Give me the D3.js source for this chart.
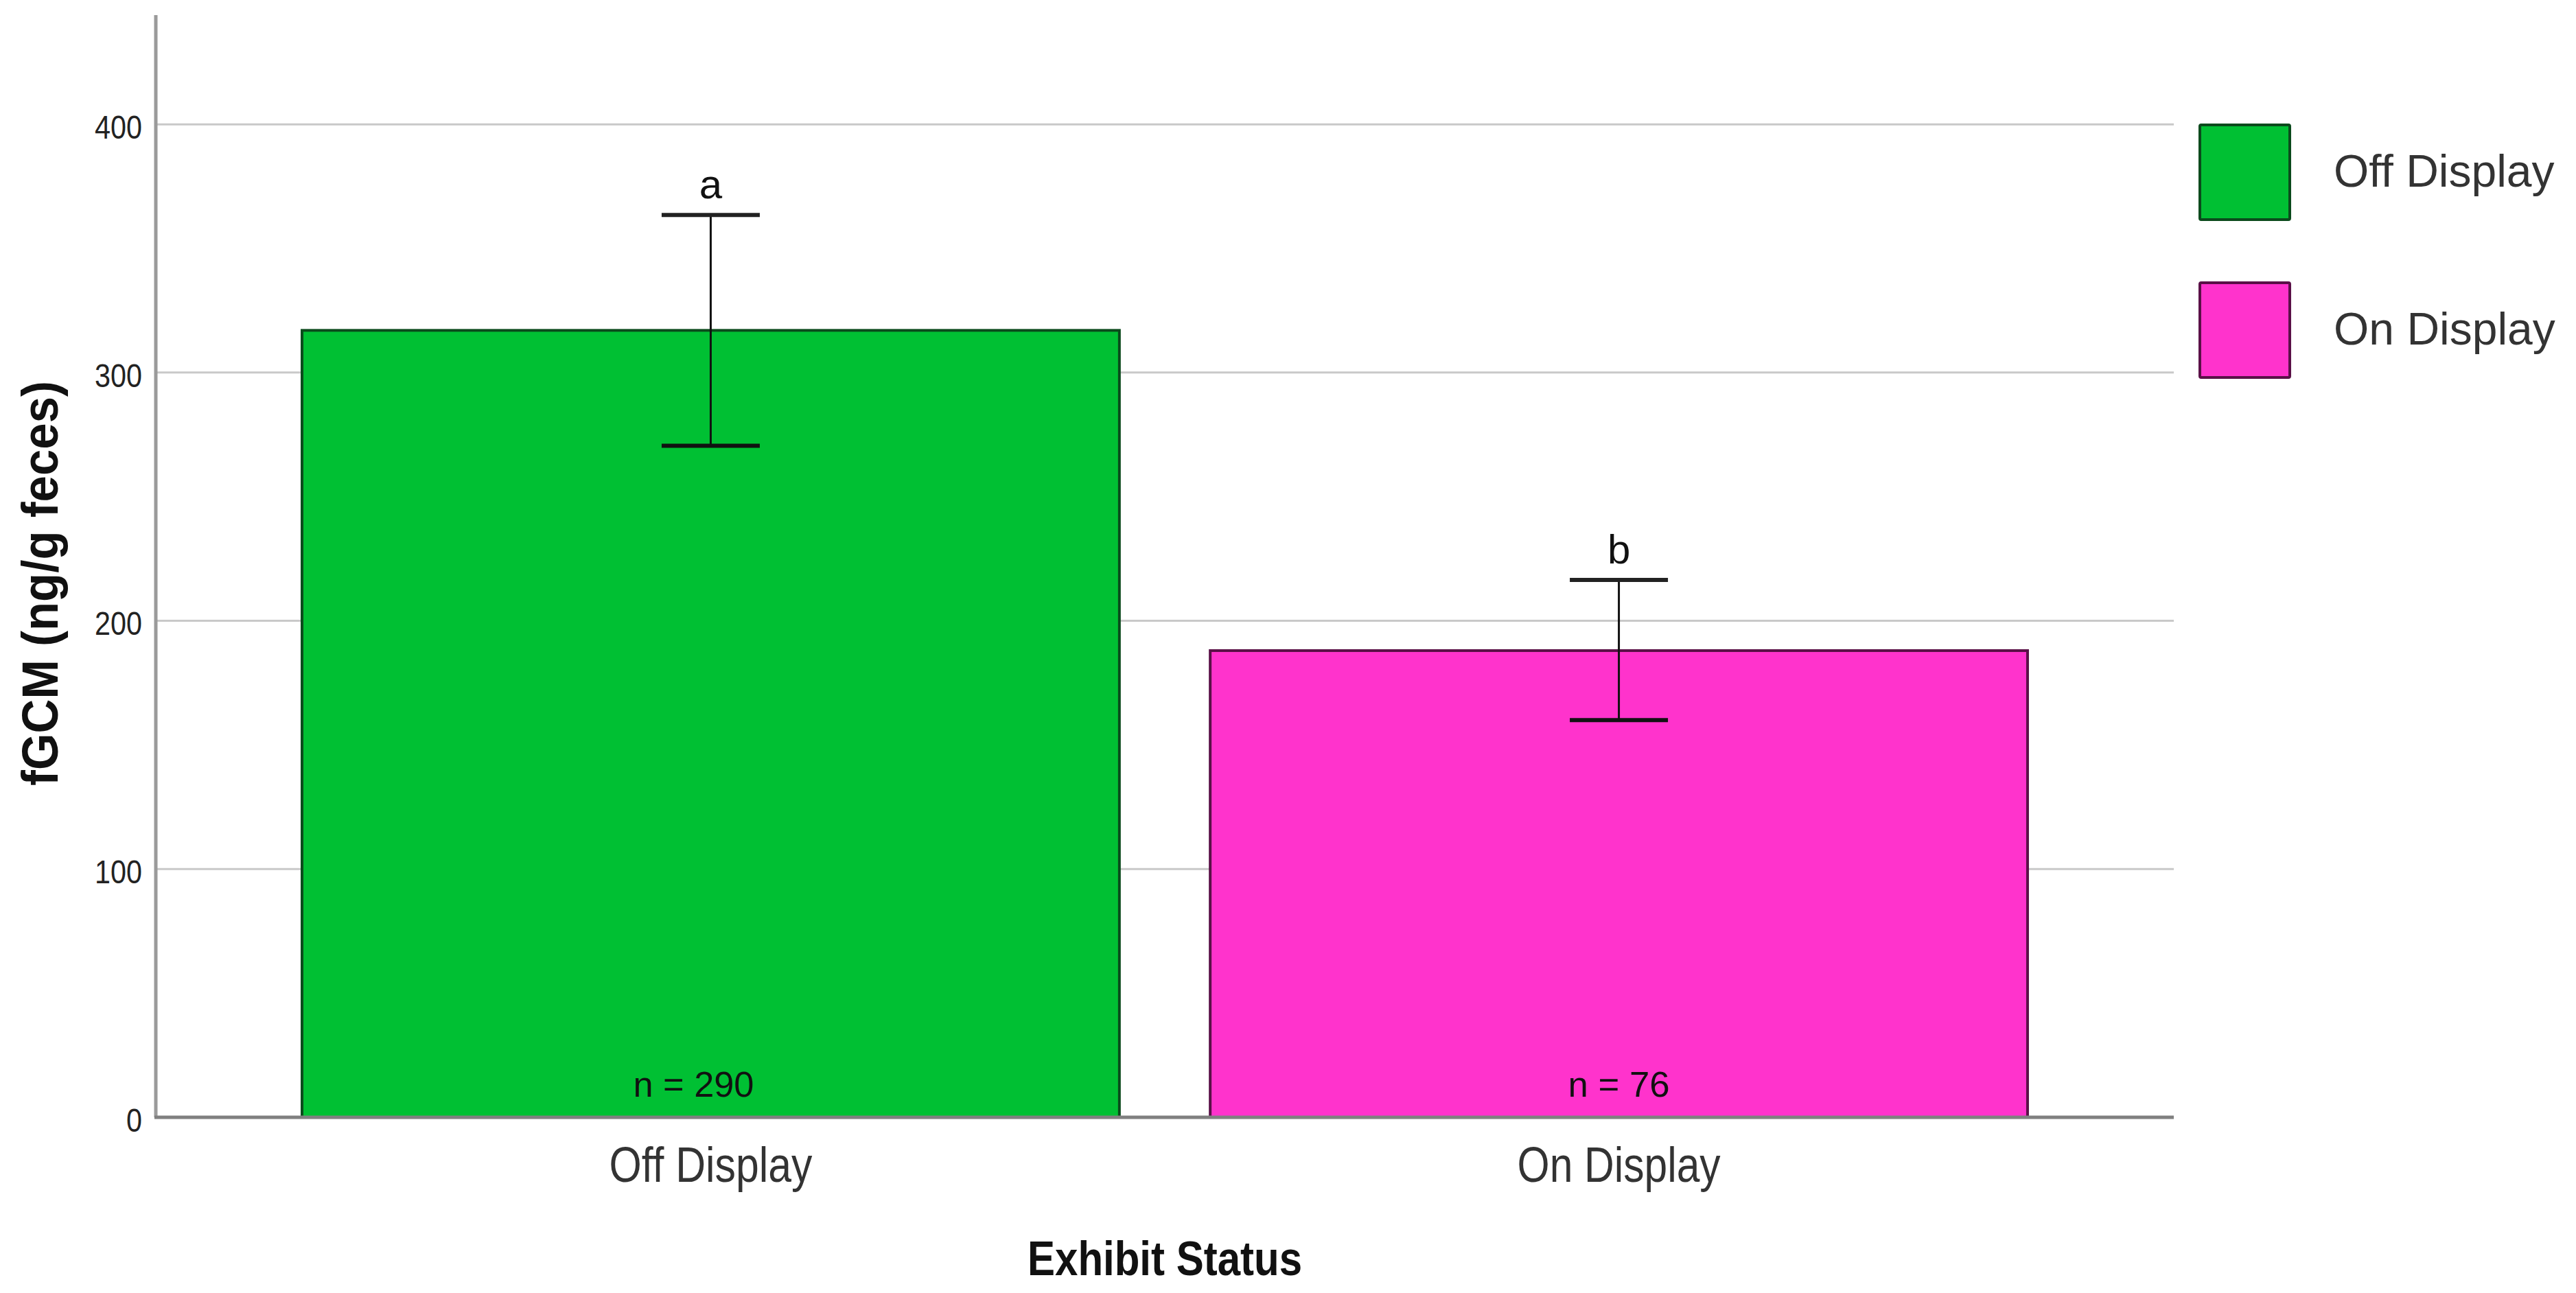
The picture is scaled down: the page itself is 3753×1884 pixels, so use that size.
<!DOCTYPE html>
<html>
<head>
<meta charset="utf-8">
<script src="https://cdn.jsdelivr.net/npm/d3@7"></script>
<style>
  html, body { margin: 0; padding: 0; background: #fff; }
  svg { display: block; }
  text { font-family: "Liberation Sans", Arial, sans-serif; }
</style>
</head>
<body>
<script>
// ---- data ----
const categories = ["Off Display", "On Display"];
const meanValues = [317, 188];
const errLow = [270.5, 160];
const errHigh = [363.5, 216.5];
const sampleSizes = [290, 76];
const sigLetters = ["a", "b"];
const yTickValues = [0, 100, 200, 300, 400];
const barColors = ["#00C033", "#FF33CC"];
const barStrokes = ["#0b4a1c", "#5a1047"];
const nLabelShift = [-25, 0];

const W = 3753, H = 1884;
const svg = d3.select("body").append("svg").attr("width", W).attr("height", H);
svg.append("rect").attr("width", W).attr("height", H).attr("fill", "#fff");

const x0 = 227, x1 = 3167, yBottom = 1628, yTop = 22;

const x = d3.scaleBand().domain(categories).range([x0, x1])
  .paddingInner(0.1).paddingOuter(0.161);
const y = d3.scaleLinear().domain([0, 444]).range([yBottom, yTop]);

// gridlines
svg.append("g").selectAll("line").data(yTickValues.filter(v => v > 0)).join("line")
  .attr("x1", x0).attr("x2", x1)
  .attr("y1", d => y(d)).attr("y2", d => y(d))
  .attr("stroke", "#c9c9c9").attr("stroke-width", 3);

// y axis (labels only; line drawn separately)
const yAxis = d3.axisLeft(y).tickValues(yTickValues).tickSize(0).tickPadding(20).tickFormat(d3.format("d"));
const gy = svg.append("g").attr("transform", `translate(${x0},0)`).call(yAxis);
gy.select(".domain").remove();
gy.selectAll("text").attr("font-size", 48).attr("fill", "#222")
  .attr("font-family", "'Liberation Sans', Arial, sans-serif").attr("dy", "0.42em")
  .attr("textLength", d => String(d).length * 23).attr("lengthAdjust", "spacingAndGlyphs");

// bars
const bars = categories.map((c, i) => ({ c, v: meanValues[i], lo: errLow[i], hi: errHigh[i], n: sampleSizes[i], L: sigLetters[i], col: barColors[i], st: barStrokes[i], sh: nLabelShift[i] }));

svg.append("g").selectAll("rect").data(bars).join("rect")
  .attr("x", d => x(d.c)).attr("width", x.bandwidth())
  .attr("y", d => y(d.v)).attr("height", d => y(0) - y(d.v))
  .attr("fill", d => d.col).attr("stroke", d => d.st).attr("stroke-width", 4);

// axes lines
svg.append("line").attr("x1", x0).attr("x2", x0).attr("y1", yTop).attr("y2", yBottom)
  .attr("stroke", "#9a9a9a").attr("stroke-width", 5);
svg.append("line").attr("x1", x0 - 2).attr("x2", x1).attr("y1", yBottom).attr("y2", yBottom)
  .attr("stroke", "#808080").attr("stroke-width", 5);

// error bars
const cx = d => x(d.c) + x.bandwidth() / 2;
const capW = 143;
const eg = svg.append("g").selectAll("g").data(bars).join("g");
eg.append("line").attr("x1", cx).attr("x2", cx).attr("y1", d => y(d.hi)).attr("y2", d => y(d.lo))
  .attr("stroke", "#111").attr("stroke-width", 3);
eg.append("line").attr("x1", d => cx(d) - capW / 2).attr("x2", d => cx(d) + capW / 2)
  .attr("y1", d => y(d.hi)).attr("y2", d => y(d.hi)).attr("stroke", "#222").attr("stroke-width", 6);
eg.append("line").attr("x1", d => cx(d) - capW / 2).attr("x2", d => cx(d) + capW / 2)
  .attr("y1", d => y(d.lo)).attr("y2", d => y(d.lo)).attr("stroke", "#111").attr("stroke-width", 6);

// significance letters
eg.append("text").attr("x", cx).attr("y", d => y(d.hi) - 24)
  .attr("text-anchor", "middle").attr("font-size", 60).attr("fill", "#111")
  .text(d => d.L);

// n labels
eg.append("text").attr("x", d => cx(d) + d.sh).attr("y", 1598)
  .attr("text-anchor", "middle").attr("font-size", 52).attr("fill", "#111")
  .attr("textLength", d => d.n >= 100 ? 176 : 148).attr("lengthAdjust", "spacingAndGlyphs")
  .text(d => `n = ${d.n}`);

// x axis labels
const xAxis = d3.axisBottom(x).tickSize(0).tickPadding(0);
const gx = svg.append("g").attr("transform", `translate(0,${yBottom})`).call(xAxis);
gx.select(".domain").remove();
gx.selectAll("text").attr("font-size", 72).attr("fill", "#333")
  .attr("font-family", "'Liberation Sans', Arial, sans-serif")
  .attr("dy", 0).attr("y", 94)
  .attr("textLength", 296).attr("lengthAdjust", "spacingAndGlyphs");

// axis titles
svg.append("text").attr("x", (x0 + x1) / 2).attr("y", 1858)
  .attr("text-anchor", "middle").attr("font-size", 70).attr("font-weight", "bold").attr("fill", "#111")
  .attr("textLength", 400).attr("lengthAdjust", "spacingAndGlyphs")
  .text("Exhibit Status");

svg.append("text").attr("transform", "translate(84,850) rotate(-90)")
  .attr("text-anchor", "middle").attr("font-size", 74).attr("font-weight", "bold").attr("fill", "#111")
  .attr("textLength", 590).attr("lengthAdjust", "spacingAndGlyphs")
  .text("fGCM (ng/g feces)");

// legend
const legBaselines = [272, 502];
const lg = svg.append("g").selectAll("g").data(bars).join("g");
lg.append("rect").attr("x", 3205).attr("y", (d, i) => legBaselines[i] - 90).attr("width", 131).attr("height", 138)
  .attr("fill", d => d.col).attr("stroke", d => d.st).attr("stroke-width", 4).attr("rx", 2);
lg.append("text").attr("x", 3400).attr("y", (d, i) => legBaselines[i])
  .attr("font-size", 66).attr("fill", "#333")
  .text(d => d.c);
</script>
</body>
</html>
